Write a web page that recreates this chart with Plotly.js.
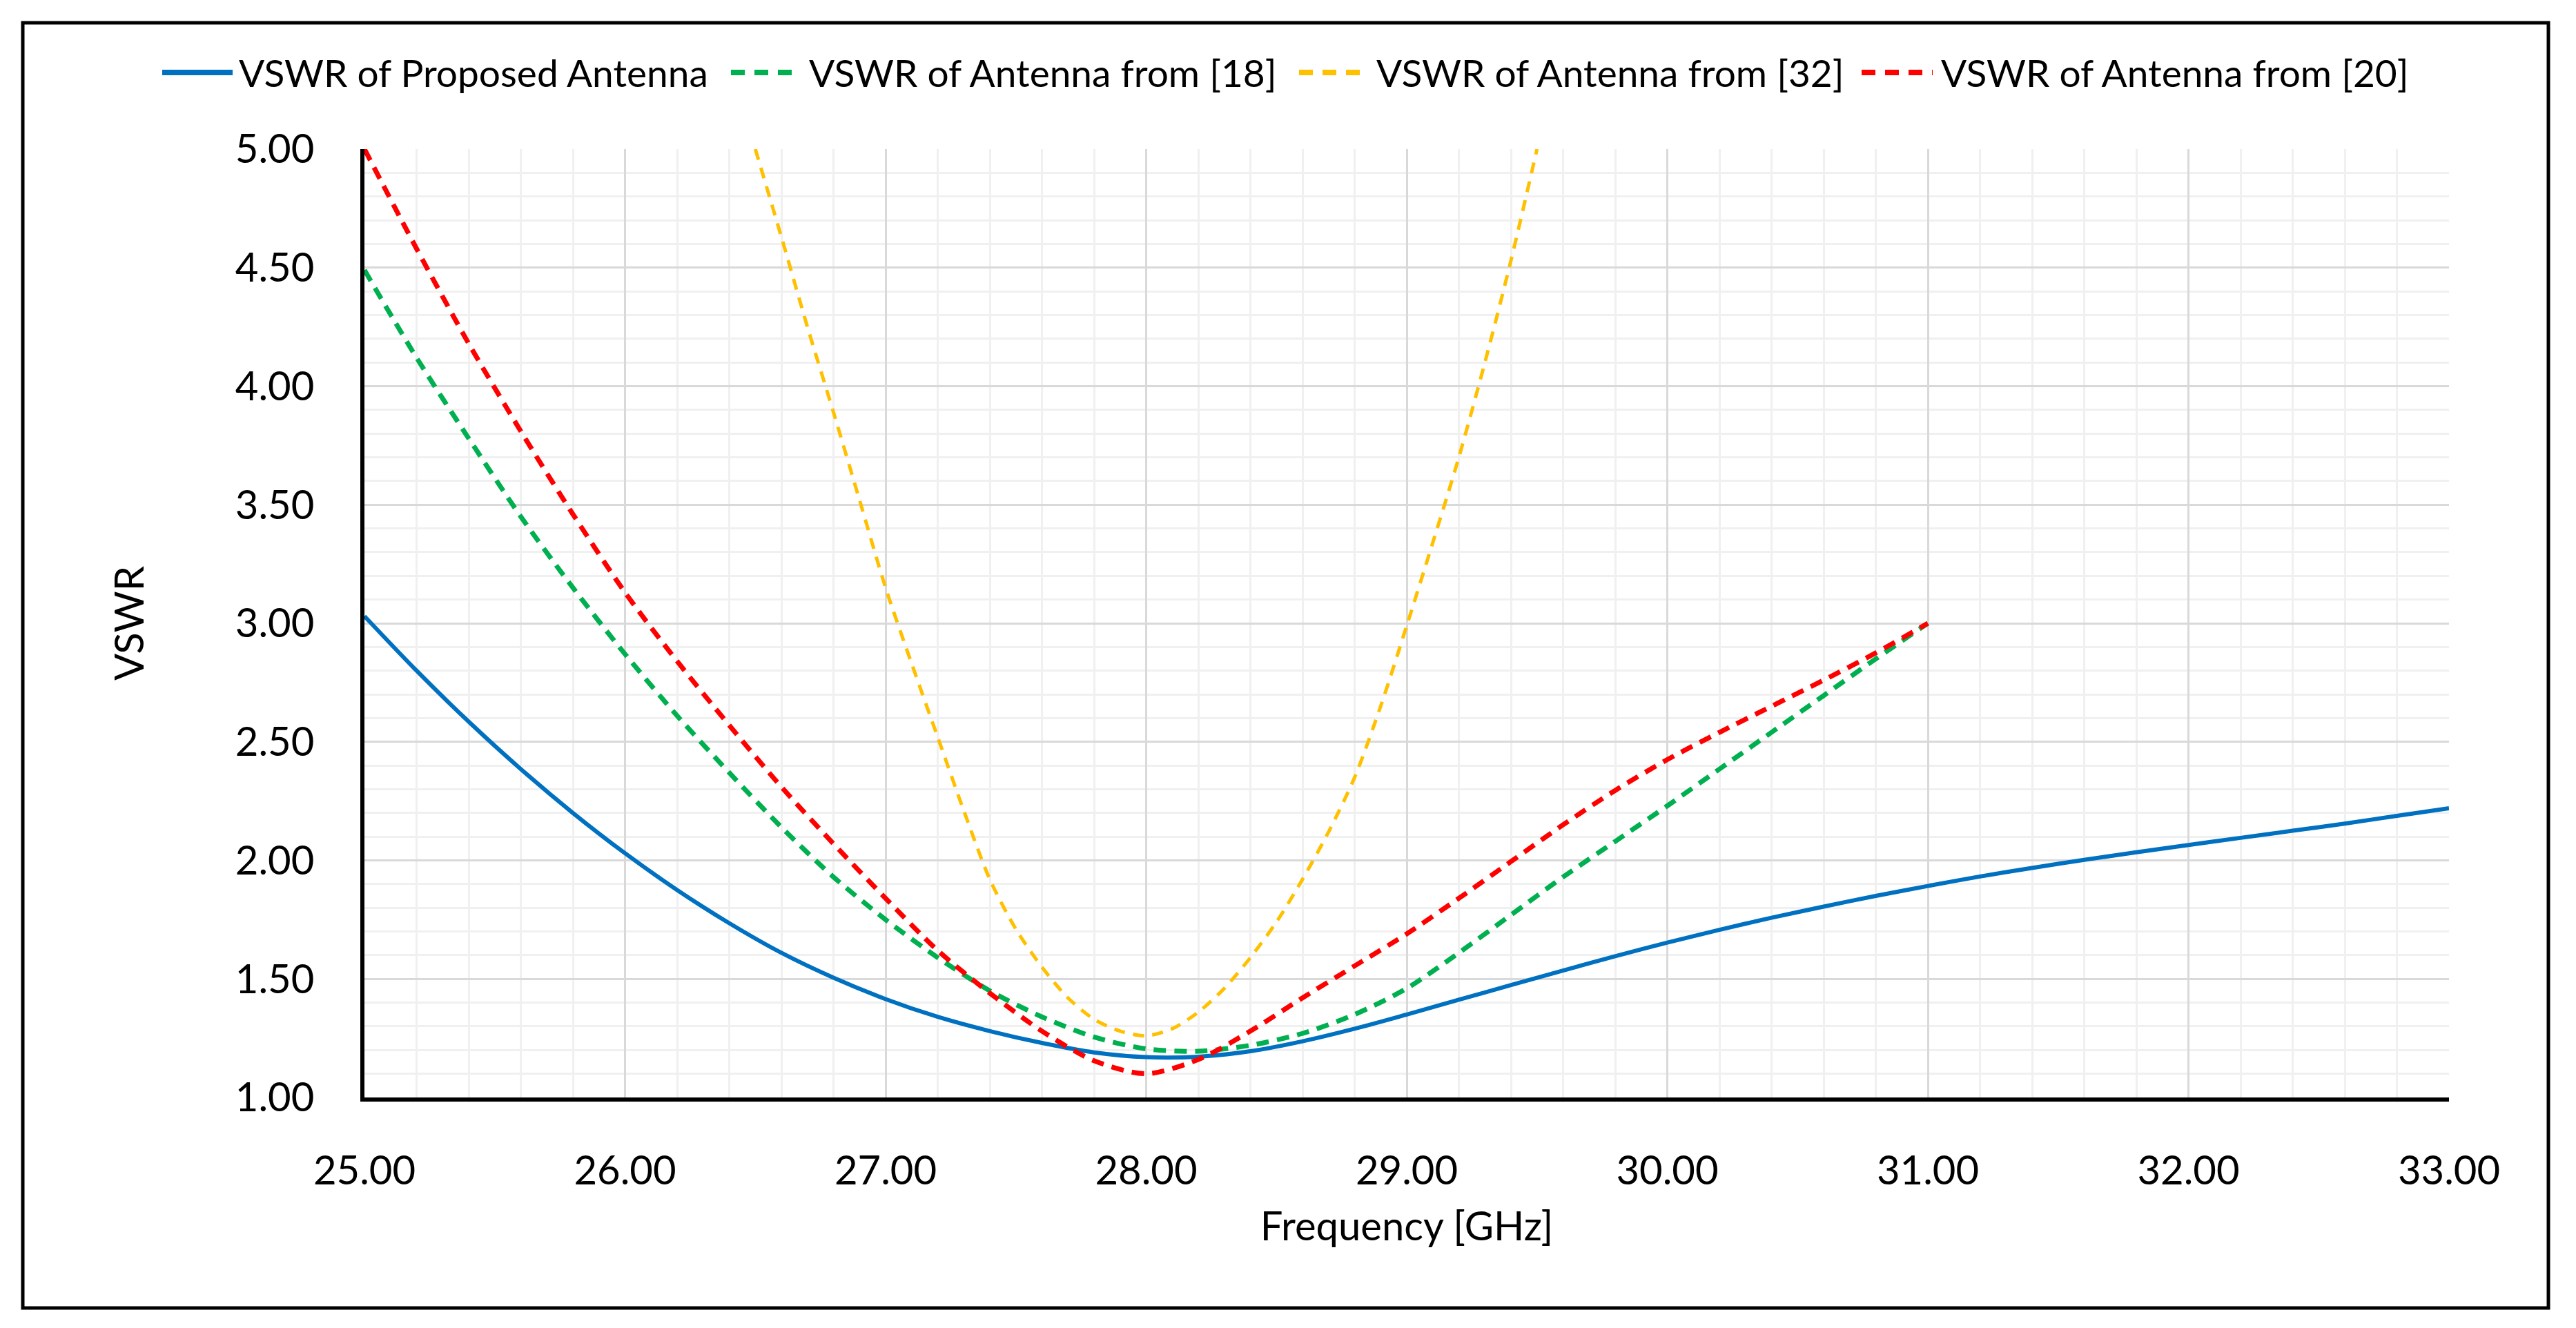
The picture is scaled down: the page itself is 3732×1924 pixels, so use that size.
<!DOCTYPE html>
<html>
<head>
<meta charset="utf-8">
<script src="https://cdn.plot.ly/plotly-3.0.1.min.js"></script>
<style>
  html, body { margin: 0; padding: 0; background: #ffffff; }
  #chart { width: 3732px; height: 1924px; }
</style>
</head>
<body>
<div id="chart"></div>
<script>
// ---- Data ----
const seriesNames = [
  "VSWR of Proposed Antenna",
  "VSWR of Antenna from [18]",
  "VSWR of Antenna from [32]",
  "VSWR of Antenna from [20]"
];

const proposedFreq = [25.0,25.2,25.4,25.6,25.8,26.0,26.2,26.4,26.6,26.8,27.0,27.2,27.4,27.6,27.8,28.0,28.2,28.4,28.6,28.8,29.0,29.2,29.4,29.6,29.8,30.0,30.2,30.4,30.6,30.8,31.0,31.2,31.4,31.6,31.8,32.0,32.2,32.4,32.6,32.8,33.0];
const proposedVSWR = [3.03,2.80,2.585,2.385,2.20,2.03,1.875,1.735,1.61,1.505,1.415,1.34,1.28,1.23,1.19,1.17,1.172,1.195,1.237,1.29,1.35,1.412,1.474,1.535,1.596,1.653,1.707,1.758,1.805,1.85,1.892,1.932,1.968,2.002,2.034,2.065,2.095,2.125,2.155,2.188,2.22];

const ref18Freq = [25.0,25.2,25.4,25.6,25.8,26.0,26.2,26.4,26.6,26.8,27.0,27.2,27.4,27.6,27.8,28.0,28.2,28.4,28.6,28.8,29.0,29.2,29.4,29.6,29.8,30.0,30.2,30.4,30.6,30.8,31.0];
const ref18VSWR = [4.49,4.12,3.78,3.45,3.15,2.87,2.61,2.37,2.14,1.93,1.75,1.59,1.45,1.34,1.255,1.205,1.195,1.22,1.27,1.35,1.46,1.61,1.77,1.93,2.08,2.23,2.385,2.54,2.695,2.85,3.00];

const ref32Freq = [26.5,26.6,26.7,26.8,26.9,27.0,27.1,27.2,27.3,27.4,27.5,27.6,27.7,27.8,27.9,28.0,28.1,28.2,28.3,28.4,28.5,28.6,28.7,28.8,28.9,29.0,29.1,29.2,29.3,29.4,29.5];
const ref32VSWR = [5.00,4.63,4.25,3.89,3.52,3.15,2.83,2.52,2.21,1.92,1.71,1.55,1.42,1.33,1.28,1.26,1.29,1.36,1.46,1.59,1.74,1.92,2.12,2.35,2.65,2.99,3.34,3.70,4.10,4.53,5.00];

const ref20Freq = [25.0,25.2,25.4,25.6,25.8,26.0,26.2,26.4,26.6,26.8,27.0,27.2,27.4,27.6,27.8,28.0,28.2,28.4,28.6,28.8,29.0,29.2,29.4,29.6,29.8,30.0,30.2,30.4,30.6,30.8,31.0];
const ref20VSWR = [5.00,4.58,4.18,3.81,3.46,3.13,2.84,2.57,2.31,2.07,1.84,1.62,1.44,1.28,1.155,1.10,1.16,1.28,1.42,1.555,1.69,1.84,1.995,2.15,2.295,2.425,2.54,2.65,2.76,2.875,3.00];

const xTickVals = [25,26,27,28,29,30,31,32,33];
const yTickVals = [1.0,1.5,2.0,2.5,3.0,3.5,4.0,4.5,5.0];

// ---- Styling ----
const FONT = "Lato, 'Open Sans', sans-serif";
const colors = ["#0070C0", "#00B050", "#FFC000", "#FF0000"];
const widths = [6, 7, 5, 7];
const dashes = ["solid", "18px,12px", "16px,12px", "18px,12px"];

const traces = [
  { x: proposedFreq, y: proposedVSWR, name: seriesNames[0], mode: "lines",
    line: { color: colors[0], width: widths[0], dash: dashes[0], shape: "spline", smoothing: 0.8 } },
  { x: ref18Freq, y: ref18VSWR, name: seriesNames[1], mode: "lines",
    line: { color: colors[1], width: widths[1], dash: dashes[1], shape: "spline", smoothing: 0.8 } },
  { x: ref32Freq, y: ref32VSWR, name: seriesNames[2], mode: "lines",
    line: { color: colors[2], width: widths[2], dash: dashes[2], shape: "spline", smoothing: 0.8 } },
  { x: ref20Freq, y: ref20VSWR, name: seriesNames[3], mode: "lines",
    line: { color: colors[3], width: widths[3], dash: dashes[3], shape: "spline", smoothing: 0.8 } }
];

const W = 3732, H = 1924;
const L = 528, R = 184, T = 216, B = 334;
const plotW = W - L - R, plotH = H - T - B;
function px(xpix) { return (xpix - L) / plotW; }
function py(ypix) { return (H - B - ypix) / plotH; }

// Legend laid out in one row above the plot (sample line + label per series)
const legendSampleX = [[235, 337], [1059, 1159], [1882, 1978], [2697, 2800]];
const legendTextX = [344, 1170, 1992, 2810];
const legendY = 105;

const legendShapes = seriesNames.map((n, i) => ({
  type: "line", xref: "paper", yref: "paper",
  x0: px(legendSampleX[i][0]), x1: px(legendSampleX[i][1]),
  y0: py(legendY), y1: py(legendY),
  line: { color: colors[i], width: 8, dash: i === 0 ? "solid" : "20px,14px" }
}));
const legendAnnotations = seriesNames.map((n, i) => ({
  text: n, xref: "paper", yref: "paper",
  x: px(legendTextX[i]), xanchor: "left",
  y: py(legendY), yanchor: "middle",
  showarrow: false,
  font: { family: FONT, size: 55, color: "#000000" }
}));

const layout = {
  width: W, height: H,
  margin: { l: L, r: R, t: T, b: B, pad: 0 },
  paper_bgcolor: "#ffffff", plot_bgcolor: "#ffffff",
  font: { family: FONT, color: "#000000", size: 58 },
  showlegend: false,
  xaxis: {
    range: [25, 33],
    tickvals: xTickVals,
    tickformat: ".2f",
    ticks: "",
    showline: true, linecolor: "#000000", linewidth: 6,
    showgrid: true, gridcolor: "#D9D9D9", gridwidth: 3,
    minor: { dtick: 0.2, showgrid: true, gridcolor: "#F0F0F0", gridwidth: 3, ticks: "" },
    zeroline: false,
    tickfont: { family: FONT, size: 58, color: "#000000" },
    ticklabelstandoff: 50,
    title: { text: "Frequency [GHz]", font: { family: FONT, size: 58, color: "#000000" }, standoff: 32 },
    automargin: false,
    fixedrange: true
  },
  yaxis: {
    range: [1, 5],
    tickvals: yTickVals,
    tickformat: ".2f",
    ticks: "",
    showline: true, linecolor: "#000000", linewidth: 6,
    showgrid: true, gridcolor: "#D9D9D9", gridwidth: 3,
    minor: { dtick: 0.1, showgrid: true, gridcolor: "#F0F0F0", gridwidth: 3, ticks: "" },
    zeroline: false,
    tickfont: { family: FONT, size: 58, color: "#000000" },
    ticklabelstandoff: 55,
    title: { text: "VSWR", font: { family: FONT, size: 58, color: "#000000" }, standoff: 115 },
    automargin: false,
    fixedrange: true
  },
  annotations: legendAnnotations,
  shapes: [
    { type: "rect", xref: "paper", yref: "paper",
      x0: px(33), x1: px(3692), y0: py(1895), y1: py(33),
      line: { color: "#000000", width: 5 }, fillcolor: "rgba(0,0,0,0)", layer: "above" }
  ].concat(legendShapes)
};

Plotly.newPlot("chart", traces, layout, { staticPlot: true, displayModeBar: false });
</script>
</body>
</html>
